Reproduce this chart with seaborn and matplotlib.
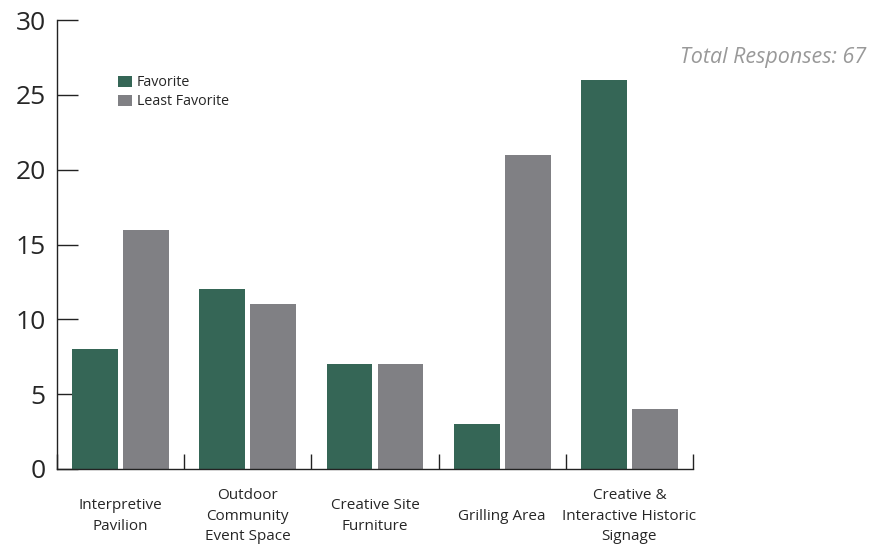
import pandas as pd
import seaborn as sns
import matplotlib.pyplot as plt

# survey data
categories = ["Interpretive\nPavilion", "Outdoor\nCommunity\nEvent Space", "Creative Site\nFurniture",
              "Grilling Area", "Creative &\nInteractive Historic\nSignage"]
favorite = [8, 12, 7, 3, 26]
least_favorite = [16, 11, 7, 21, 4]
series_names = ["Favorite", "Least Favorite"]
y_ticks = [0, 5, 10, 15, 20, 25, 30]

df = pd.DataFrame({
    "category": categories * 2,
    "count": favorite + least_favorite,
    "series": [series_names[0]] * len(categories) + [series_names[1]] * len(categories),
})

sns.set_style("white")
plt.rcParams["font.family"] = ["Open Sans", "DejaVu Sans"]

fig = plt.figure(figsize=(8.69, 5.49), dpi=100)
ax = fig.add_axes([57 / 869, 80 / 549, 636 / 869, 449 / 549])

sns.barplot(data=df, x="category", y="count", hue="series", order=categories,
            hue_order=series_names, palette=["#356656", "#808084"],
            width=0.8, gap=0.1, saturation=1, linewidth=0, ax=ax)

ax.set_xlim(-0.5, len(categories) - 0.5)
ax.set_ylim(0, 30)
ax.set_xlabel("")
ax.set_ylabel("")

# spines
for s in ["top", "right"]:
    ax.spines[s].set_visible(False)
for s in ["left", "bottom"]:
    ax.spines[s].set_color("#222222")
    ax.spines[s].set_linewidth(1.0)

# y ticks point inward
ax.set_yticks(y_ticks)
ax.tick_params(axis="y", direction="in", length=15, width=1, color="#222222",
               labelsize=19, pad=8, left=True)

# x: boundary ticks (major) and centered labels (minor)
ax.set_xticks([i - 0.5 for i in range(len(categories) + 1)])
ax.set_xticklabels([])
ax.set_xticks(range(len(categories)), minor=True)
ax.set_xticklabels(categories, minor=True, fontsize=11, linespacing=1.5)
ax.tick_params(axis="x", which="major", direction="in", length=11, width=1, color="#222222", bottom=True)
ax.tick_params(axis="x", which="minor", length=0, pad=34)
for lbl in ax.get_xticklabels(minor=True):
    lbl.set_verticalalignment("center")

leg = ax.legend(loc="upper left", bbox_to_anchor=(118 / 869, 474 / 549), bbox_transform=fig.transFigure,
                frameon=False, fontsize=10.3, handlelength=1.0, handleheight=0.8,
                handletextpad=0.3, labelspacing=0.3, borderpad=0, borderaxespad=0)

fig.text(866 / 869, 492 / 549, "Total Responses: 67", ha="right", va="center",
         fontsize=15.5, style="italic", color="#999999")

fig.savefig("out.png", dpi=100)
